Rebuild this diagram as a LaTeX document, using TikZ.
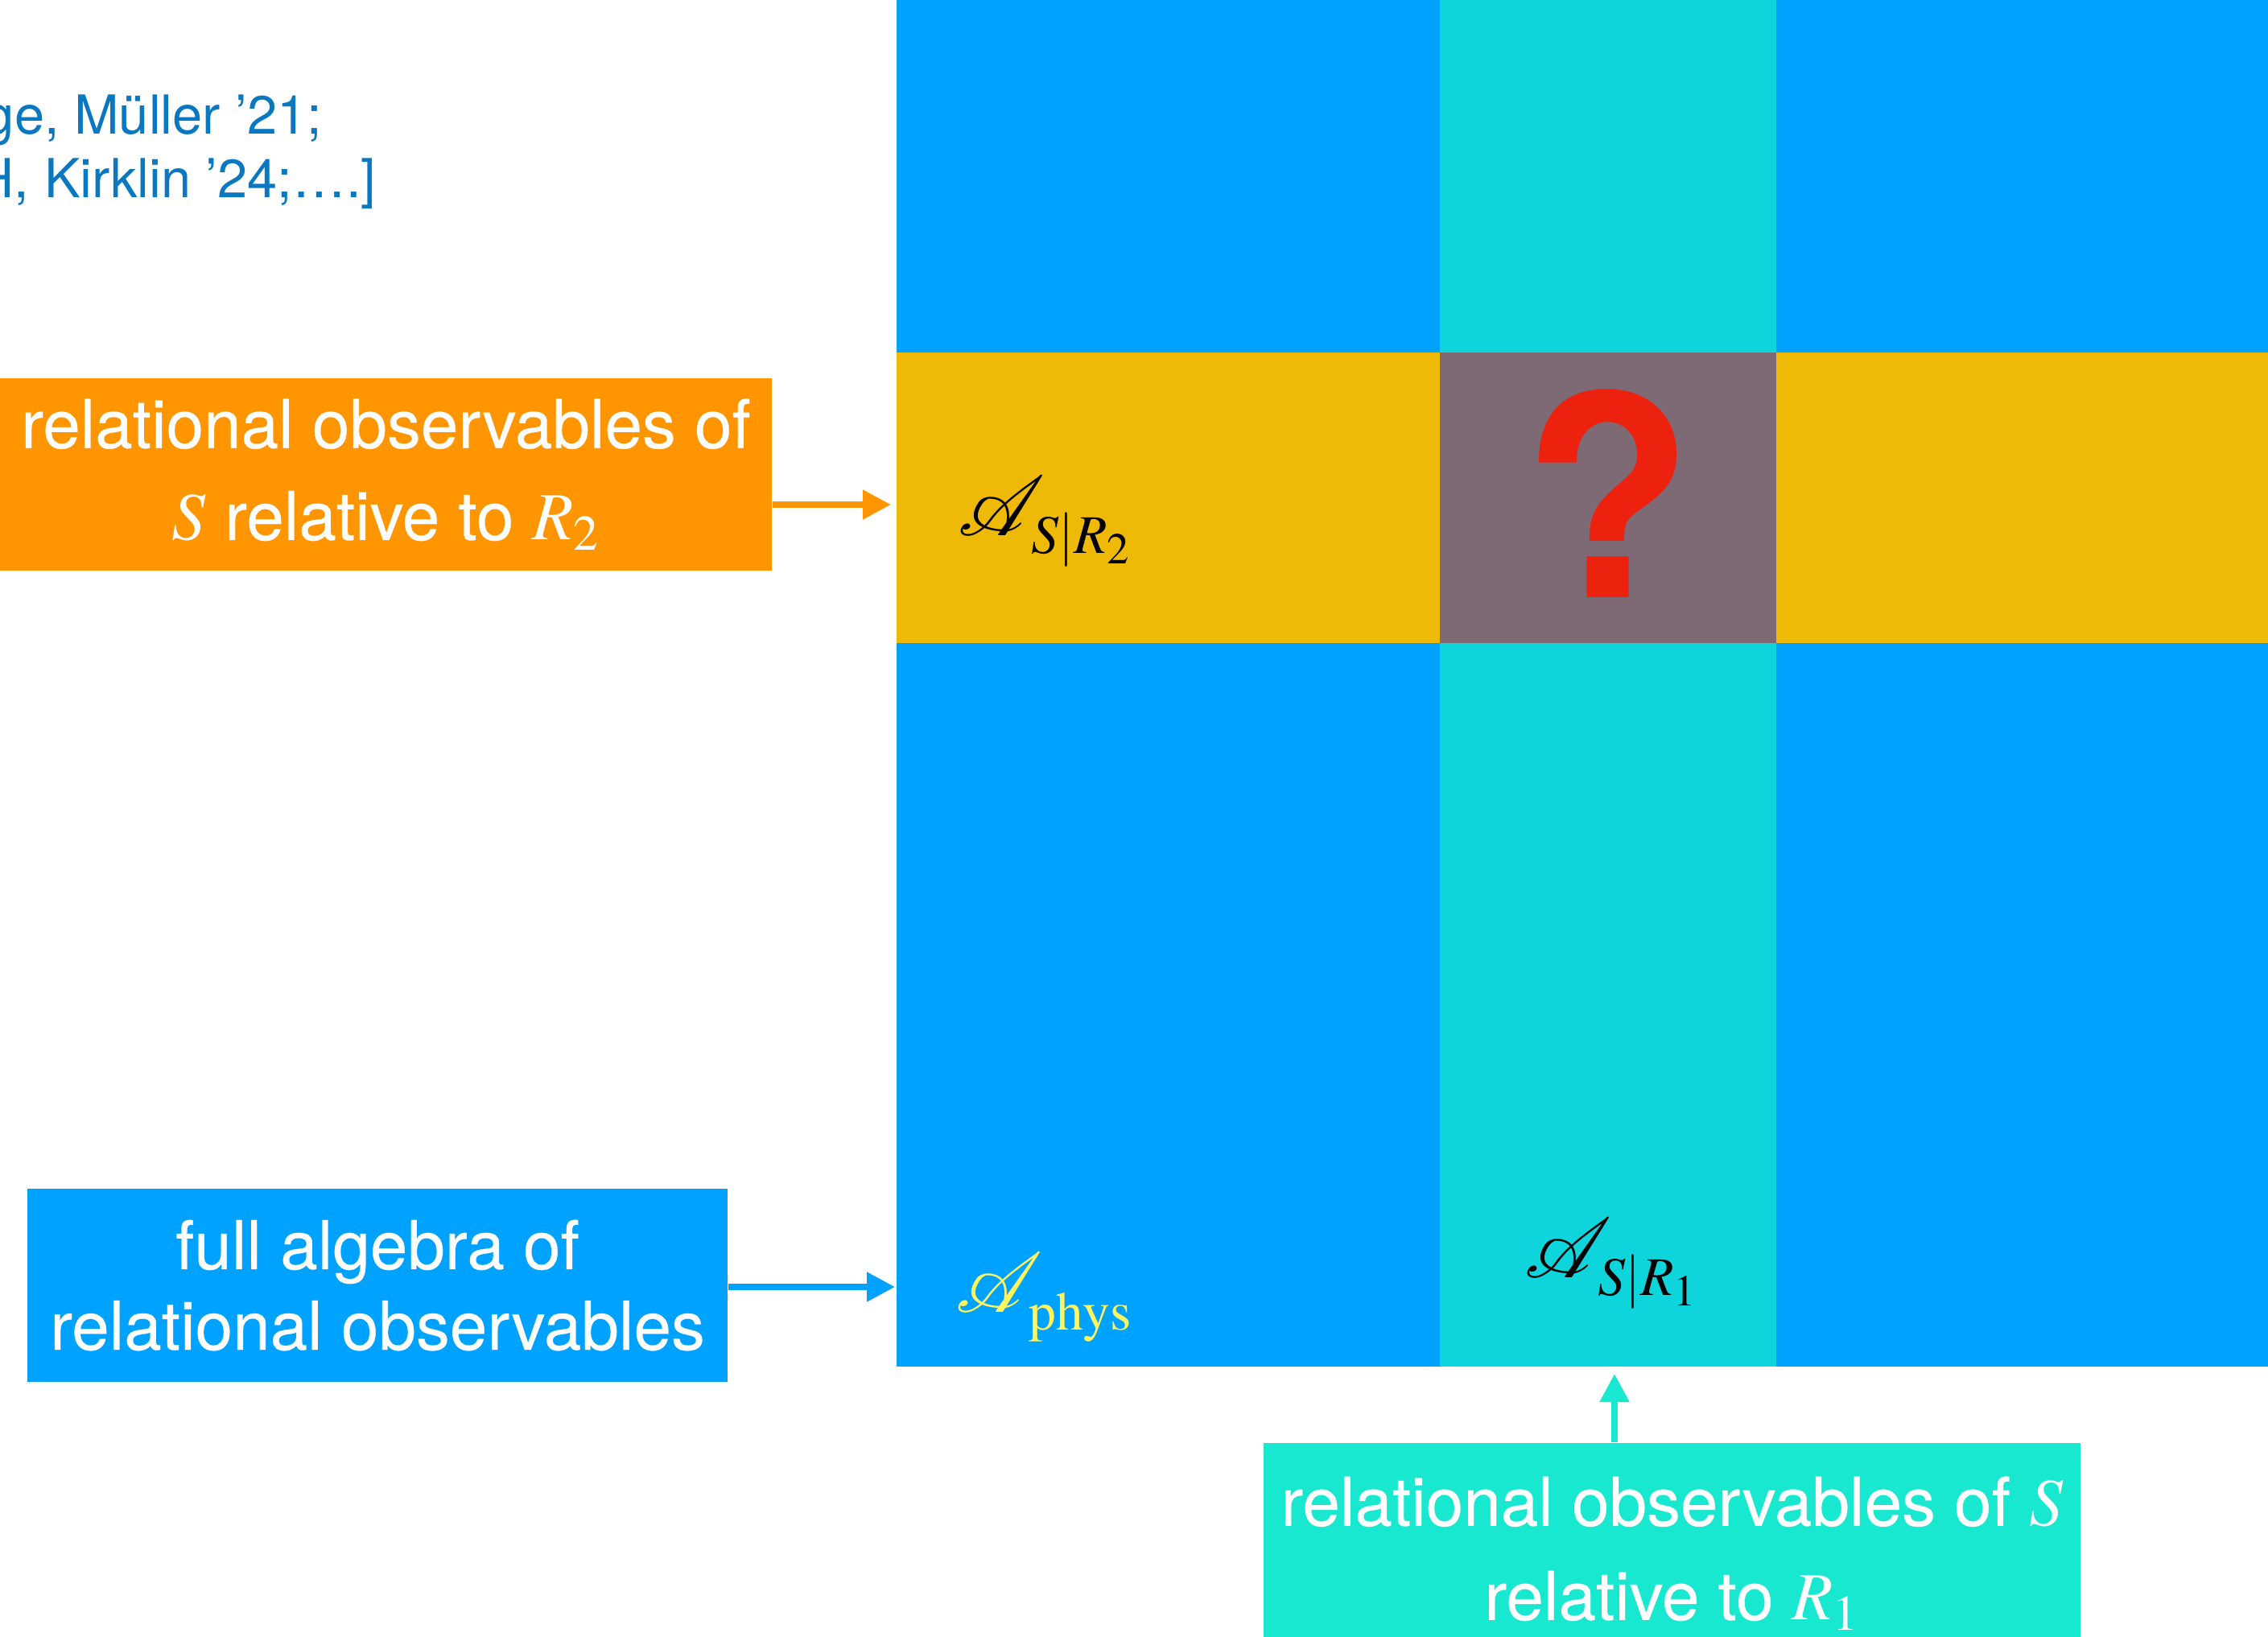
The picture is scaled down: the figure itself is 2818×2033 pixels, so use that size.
\documentclass[tikz,border=0pt]{standalone}
\usepackage{mathptmx}
\usepackage{mathrsfs}
\usepackage[no-math]{fontspec}
\setmainfont{TeX Gyre Heros}
\usepackage{xcolor}
\usepackage{tikz}
\usetikzlibrary{arrows.meta}
\definecolor{gridblue}{HTML}{00A2FF}
\definecolor{colcyan}{HTML}{0ED4DC}
\definecolor{rowyellow}{HTML}{EFB908}
\definecolor{midgray}{HTML}{7D6A75}
\definecolor{qred}{HTML}{EC220E}
\definecolor{boxorange}{HTML}{FF9500}
\definecolor{boxcyan}{HTML}{18E8CF}
\definecolor{physyellow}{HTML}{FFF55F}
\definecolor{refblue}{HTML}{0A78C0}
\newcommand{\bigA}{\scalebox{1.2}{$\mathscr{A}$}}
\newcommand{\lowsub}[1]{\kern-5pt\lower2.5pt\hbox{$\scriptstyle #1$}}
\tikzset{
infobox/.style={
inner sep=0pt,
align=center,
text=white,
font=\fontsize{23.8}{28.5}\selectfont\addfontfeature{FakeBold=0.3}
},
alglabel/.style={
inner sep=0pt,
anchor=base west,
font=\fontsize{26}{30}\selectfont
},
refline/.style={
inner sep=0pt,
anchor=base east,
text=refblue,
font=\fontsize{19}{22.5}\selectfont
},
arrow/.style={
-{Triangle[length=3.5mm,width=3.5mm]},
line width=0.8mm
}
}

\begin{document}
\begin{tikzpicture}[x=0.1mm,y=-0.1mm]
\useasboundingbox (0,0) rectangle (2818,2033);

% the grid of algebras
\fill[gridblue] (1114,0) rectangle (2818,1698);
\fill[colcyan] (1789,0) rectangle (2207,1698);
\fill[rowyellow] (1114,438) rectangle (2818,799);
\fill[midgray] (1789,438) rectangle (2207,799);

\node[inner sep=0pt,anchor=base,text=qred,font=\fontsize{99}{99}\selectfont\bfseries](qmark) at (1998,742){?};

\node[alglabel](algR2) at (1190,665){$\bigA_{\lowsub{S|R_2}}$};
\node[alglabel,text=physyellow](algphys) at (1187,1630){$\bigA_{\lowsub{\mathrm{phys}}}$};
\node[alglabel](algR1) at (1894,1587){$\bigA_{\lowsub{S|R_1}}$};

% references
\node[refline](refA) at (401,166){ge, Müller ’21;};
\node[refline](refB) at (468,245){H, Kirklin ’24;….]};

% label boxes
\node[infobox,fill=boxorange,minimum width=95.9mm,minimum height=23.9mm](relR2) at (479.5,589.5){relational observables of\\[4pt]$S$ relative to $R_2$};
\node[infobox,fill=gridblue,minimum width=87mm,minimum height=24mm](fullalg) at (469,1597){full algebra of\\relational observables};
\node[infobox,fill=boxcyan,minimum width=101.5mm,minimum height=27.4mm](relR1) at (2077.5,1930){relational observables of $S$\\[4.8pt]relative to $R_1$};

\coordinate (toR2) at (1107,627);
\coordinate (tophys) at (1112,1599);
\coordinate (toR1) at (2006,1707);
\draw[arrow,boxorange](relR2.east |- toR2)--(toR2);
\draw[arrow,gridblue](fullalg.east |- tophys)--(tophys);
\draw[arrow,boxcyan](relR1.north -| toR1)--(toR1);
\end{tikzpicture}
\end{document}
